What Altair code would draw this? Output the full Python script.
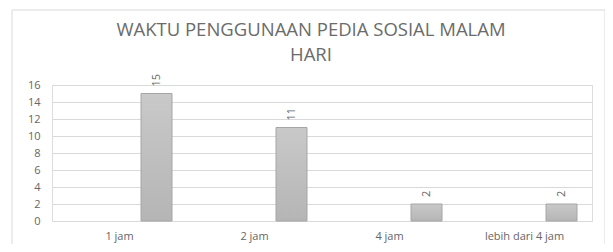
import altair as alt
import pandas as pd

categories = ["1 jam", "2 jam", "4 jam", "lebih dari 4 jam"]
values = [15, 11, 2, 2]
title_lines = ["WAKTU PENGGUNAAN PEDIA SOSIAL MALAM", "HARI"]
y_ticks = [0, 2, 4, 6, 8, 10, 12, 14, 16]

df = pd.DataFrame({"kategori": categories, "jumlah": values})
single = pd.DataFrame({"judul": [0]})

FONT = "Open Sans"
GRAY = "#666666"

x_enc = alt.X(
    "kategori:N",
    sort=categories,
    scale=alt.Scale(paddingInner=0, paddingOuter=0),
    axis=alt.Axis(title=None, labelAngle=0, ticks=False, domain=False,
                  labelPadding=9, labelFontSize=11, labelColor=GRAY, labelFont=FONT),
)
y_enc = alt.Y(
    "jumlah:Q",
    scale=alt.Scale(domain=[0, 16], nice=False),
    axis=alt.Axis(title=None, values=y_ticks, ticks=False, domain=False,
                  labelPadding=12, labelFontSize=11, labelColor=GRAY, labelFont=FONT,
                  gridColor="#d9d9d9", gridWidth=1),
)

border = alt.Chart(single).mark_rect(fill="transparent", stroke="#d9d9d9", strokeWidth=1).encode(
    x=alt.value(-40), x2=alt.value(553), y=alt.value(-75), y2=alt.value(163)
)

title1 = alt.Chart(single).mark_text(
    text=title_lines[0], align="center", baseline="middle",
    fontSize=18.5, fontWeight="normal", color="#6b6b6b", font=FONT,
).encode(x=alt.value(259), y=alt.value(-55.5))

title2 = alt.Chart(single).mark_text(
    text=title_lines[1], align="center", baseline="middle",
    fontSize=18.5, fontWeight="normal", color="#6b6b6b", font=FONT,
).encode(x=alt.value(259), y=alt.value(-30))

bars = alt.Chart(df).mark_bar(
    width=31, xOffset=37,
    color=alt.Gradient(
        gradient="linear", x1=0, x2=0, y1=0, y2=1,
        stops=[alt.GradientStop(color="#c9c9c9", offset=0),
               alt.GradientStop(color="#b5b5b5", offset=1)],
    ),
    stroke="#a6a6a6", strokeWidth=1,
).encode(x=x_enc, y=y_enc)

labels = alt.Chart(df).mark_text(
    angle=270, align="left", baseline="middle", dx=7, xOffset=37,
    fontSize=11, color=GRAY, font=FONT,
).encode(x=x_enc, y=y_enc, text="jumlah:Q")

chart = alt.layer(bars, labels, border, title1, title2).properties(
    width=540,
    height=136,
    autosize=alt.AutoSizeParams(type="none"),
    padding={"left": 44, "top": 77, "right": 13, "bottom": 23},
).configure_view(stroke=None).configure(background="white")

chart.save("out.html", embed_options={"renderer": "svg", "actions": False})
